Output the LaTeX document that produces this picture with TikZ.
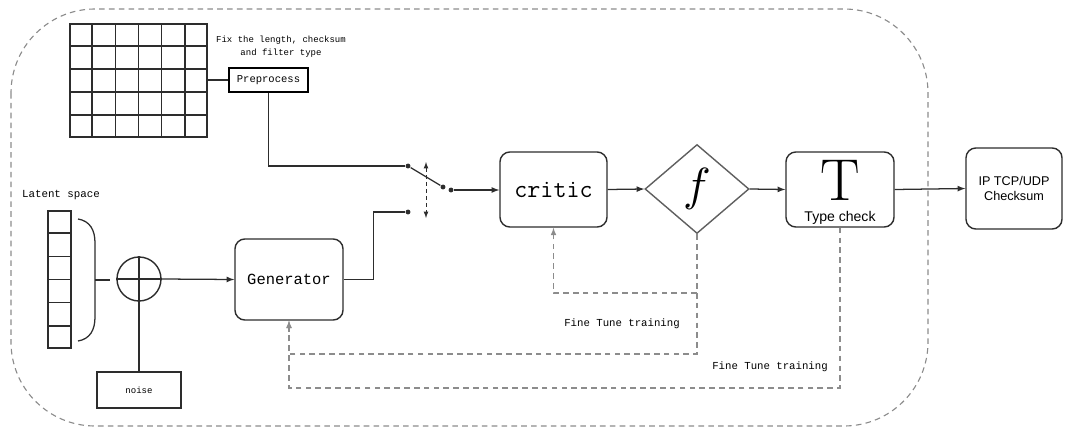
\documentclass[tikz,border=0pt]{standalone}
\usepackage{fontspec}
\usepackage{graphicx}
\usetikzlibrary{arrows,shapes.geometric,calc}
\newfontfamily\bitfont{Liberation Mono}
\newfontfamily\labfont{Liberation Sans}
\definecolor{linecol}{RGB}{45,45,45}
\definecolor{fbcol}{RGB}{140,140,140}
\definecolor{diacol}{RGB}{95,95,95}
\tikzset{
  basic/.style  = {draw=linecol, line width=1pt, inner sep=0pt},
  block/.style  = {basic, rounded corners=7pt, align=center},
  plain/.style  = {basic, rectangle},
  cell/.style   = {draw=linecol, line width=1.2pt},
  feed/.style   = {draw=fbcol, dashed, dash pattern=on 4pt off 3pt, line width=0.8pt},
  note/.style   = {font=\bitfont\fontsize{7.6}{9}\selectfont, inner sep=0pt, align=center},
  dot/.style    = {circle, fill=linecol, inner sep=0pt, minimum size=3.5pt}
}

\begin{document}
\begin{tikzpicture}[x=0.025cm, y=-0.025cm, >=latex, line width=0.9pt, draw=linecol]
\useasboundingbox (0,0) rectangle (1066,428);

% outer frame
\draw[feed, rounded corners=2.1cm] (11,9) rectangle (928,426);

% input grid and latent vector
\node[plain, line width=1.2pt, minimum width=3.425cm, minimum height=2.825cm] (grid) at (138.5,80.5) {};
\foreach \i in {1,...,5}
  \draw[cell] ($(grid.north west)!\i/6!(grid.north east)$) -- ($(grid.south west)!\i/6!(grid.south east)$);
\foreach \i in {1,...,4}
  \draw[cell] ($(grid.north west)!\i/5!(grid.south west)$) -- ($(grid.north east)!\i/5!(grid.south east)$);

\node[note, font=\bitfont\fontsize{6.4}{9.2}\selectfont] (fixtxt) at (281,47) {Fix the length, checksum\\and filter type};
\node[plain, line width=1.3pt, draw=black, minimum width=1.975cm, minimum height=0.6cm,
      font=\bitfont\fontsize{7.5}{9}\selectfont] (pre) at (268.5,80) {Preprocess};

\node[note, font=\bitfont\fontsize{7.7}{9}\selectfont] (lattxt) at (61,195) {Latent space};
\node[plain, line width=1.2pt, minimum width=0.575cm, minimum height=3.425cm] (vec) at (59.5,279.5) {};
\foreach \i in {1,...,5}
  \draw[cell] ($(vec.north west)!\i/6!(vec.south west)$) -- ($(vec.north east)!\i/6!(vec.south east)$);

% bracket round the vector
\draw[linecol] (78,219) .. controls (90,221) and (95,230) .. (95,243) -- (95,317)
  .. controls (95,330) and (90,339) .. (78,341);
\coordinate (brk) at (95,280);
\coordinate (brk2) at (110,280);
\draw[linecol] (brk) -- (brk2);

% sum with noise
\node[basic, circle, minimum size=1.1cm] (sum) at (139,279) {};
\draw[linecol] (sum.west) -- (sum.east);
\node[plain, minimum width=2.1cm, minimum height=0.9cm,
      font=\bitfont\fontsize{6.4}{8}\selectfont] (noise) at (139,390) {noise};
\draw[linecol] (sum.north) -- (noise.north);

% main blocks
\node[block, minimum width=2.7cm, minimum height=2.025cm,
      font=\bitfont\fontsize{11}{12}\selectfont] (gen) at (289,279.5) {Generator};
\node[block, minimum width=2.675cm, minimum height=1.875cm,
      font=\ttfamily\fontsize{18}{18}\selectfont] (critic) at (553.5,189.5) {critic};
\node[basic, draw=diacol, diamond, minimum width=2.6cm, minimum height=2.225cm] (dia) at (697,189) {\scalebox{3.3}{$f$}};
\node[block, minimum width=2.7cm, minimum height=1.875cm] (tbox) at (840,189.5) {};
\node[inner sep=0pt, font=\fontsize{42}{42}\selectfont] (tsym) at (840,180) {T};
\node[inner sep=0pt, font=\labfont\fontsize{10}{11}\selectfont] (tlab) at (840,218) {Type check};
\node[block, minimum width=2.4cm, minimum height=2.025cm,
      font=\labfont\fontsize{9}{11}\selectfont] (ip) at (1014,188.5) {IP TCP/UDP\\Checksum};

% switch
\node[dot] (sw1) at (408,166) {};
\node[dot] (sw2) at (408,212) {};
\node[dot] (swa) at (443,187) {};
\node[dot] (swb) at (451,190) {};
\coordinate (swup) at (426,162);
\coordinate (swdn) at (426,218);
\draw[linecol] (sw1) -- (swa);
\draw[feed, draw=linecol, line width=0.6pt, dash pattern=on 3pt off 2pt, <->] (swup) -- (swdn);

% connectors
\draw[linecol] (grid.east |- pre.west) -- (pre.west);
\draw[linecol] (pre.south) |- (sw1);
\draw[linecol] (gen.east) -- ++(30,0) |- (sw2);
\draw[linecol,->] (sum.east) -- (gen.west);
\draw[linecol,->] (swb) -- (critic.west |- swb);
\draw[linecol,->] (critic.east) -- (dia.west);
\draw[linecol,->] (dia.east) -- (tbox.west);
\draw[linecol,->] (tbox.east) -- (ip.west);

% fine tune feedback
\coordinate (fb1) at (697,293);
\coordinate (fb2) at (697,354);
\coordinate (fb3) at (840,388);
\draw[feed,->] (dia.south) -- (fb1) -| (critic.south);
\draw[feed,->] (fb1) -- (fb2) -| (gen.south);
\draw[feed,->] (tbox.south) -- (fb3) -| (gen.south);
\node[note] (ft1) at (622,324) {Fine Tune training};
\node[note] (ft2) at (770,367) {Fine Tune training};

\end{tikzpicture}
\end{document}
